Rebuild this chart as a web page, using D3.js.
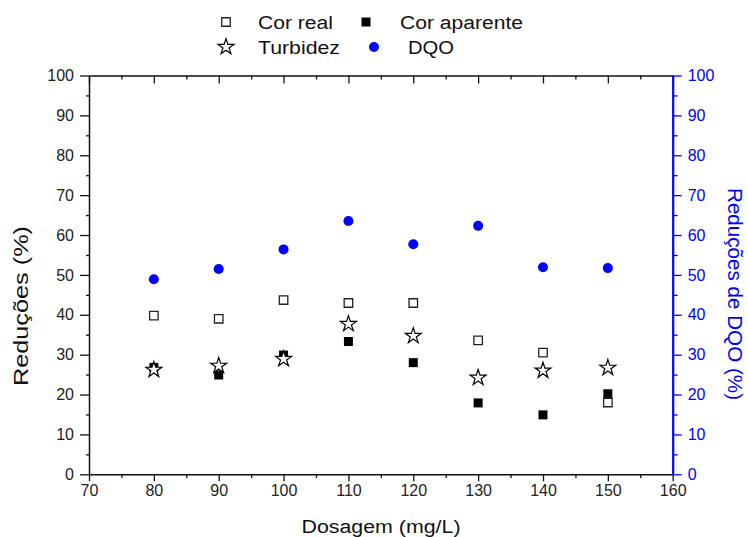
<!DOCTYPE html>
<html><head><meta charset="utf-8">
<script src="https://cdn.jsdelivr.net/npm/d3@7"></script>
<style>body{margin:0;background:#fff}svg{display:block}text{font-family:"Liberation Sans",Arial,sans-serif}</style>
</head><body><svg id="c" width="748" height="537"></svg>
<script>
const dosagem = [80, 90, 100, 110, 120, 130, 140, 150];
const corReal = [39.8, 39.0, 43.7, 42.95, 42.95, 33.6, 30.5, 18.0];
const corAparente = [26.8, 24.9, 29.9, 33.3, 28.0, 17.9, 14.9, 20.2];
const turbidez = [26.2, 27.2, 28.9, 37.7, 34.7, 24.2, 26.0, 26.7];
const dqo = [48.9, 51.5, 56.4, 63.5, 57.7, 62.3, 51.9, 51.7];
const xTicks = [70, 80, 90, 100, 110, 120, 130, 140, 150, 160];
const yTicks = [0, 10, 20, 30, 40, 50, 60, 70, 80, 90, 100];

const svg = d3.select("#c");
const L = 89, R = 672.7, T = 75.5, B = 474.3;
const x = d3.scaleLinear().domain([70, 160]).range([L, R]);
const y = d3.scaleLinear().domain([0, 100]).range([B, T]);
const y2 = d3.scaleLinear().domain([0, 100]).range([B, T]);
const minorX = d3.range(75, 160, 10);
const minorY = d3.range(5, 100, 10);
const blue = "#0000ff";

function style(g, color, w) {
  g.select(".domain").attr("stroke", color).attr("stroke-width", w);
  g.selectAll(".tick line").attr("stroke", color).attr("stroke-width", 1.3);
  g.selectAll(".tick text").attr("fill", color).style("font-size", "16px");
}
// bottom axis
let g = svg.append("g").attr("transform", `translate(0,${B})`)
  .call(d3.axisBottom(x).tickValues(xTicks).tickFormat(d3.format("d")).tickSizeInner(7).tickSizeOuter(0).tickPadding(3));
style(g, "#111", 1.5);
g.selectAll(".tick text").attr("fill", "#222");
svg.append("g").attr("transform", `translate(0,${B})`)
  .call(d3.axisBottom(x).tickValues(minorX).tickFormat("").tickSize(3.7))
  .call(s => { s.select(".domain").remove(); s.selectAll("line").attr("stroke", "#111").attr("stroke-width", 1.3); });
// top axis (inward ticks)
g = svg.append("g").attr("transform", `translate(0,${T})`)
  .call(d3.axisTop(x).tickValues(xTicks).tickFormat("").tickSizeInner(-8).tickSizeOuter(0));
style(g, "#111", 1.5);
svg.append("g").attr("transform", `translate(0,${T})`)
  .call(d3.axisTop(x).tickValues(minorX).tickFormat("").tickSize(-4))
  .call(s => { s.select(".domain").remove(); s.selectAll("line").attr("stroke", "#111").attr("stroke-width", 1.3); });
// left axis
g = svg.append("g").attr("transform", `translate(${L},0)`)
  .call(d3.axisLeft(y).tickValues(yTicks).tickFormat(d3.format("d")).tickSizeInner(9).tickSizeOuter(0).tickPadding(6));
style(g, "#111", 1.5);
g.selectAll(".tick text").attr("fill", "#222");
svg.append("g").attr("transform", `translate(${L},0)`)
  .call(d3.axisLeft(y).tickValues(minorY).tickFormat("").tickSize(3))
  .call(s => { s.select(".domain").remove(); s.selectAll("line").attr("stroke", "#111").attr("stroke-width", 1.3); });
// right axis blue
g = svg.append("g").attr("transform", `translate(${R},0)`)
  .call(d3.axisRight(y2).tickValues(yTicks).tickFormat(d3.format("d")).tickSizeInner(9).tickSizeOuter(0).tickPadding(6));
style(g, blue, 2.2);
svg.append("g").attr("transform", `translate(${R},0)`)
  .call(d3.axisRight(y2).tickValues(minorY).tickFormat("").tickSize(5))
  .call(s => { s.select(".domain").remove(); s.selectAll("line").attr("stroke", blue).attr("stroke-width", 1.3); });

// axis titles
svg.append("text").attr("x", 381).attr("y", 533).attr("text-anchor", "middle")
  .style("font-size", "18px").attr("fill", "#111").attr("textLength", 159).attr("lengthAdjust", "spacingAndGlyphs").text("Dosagem (mg/L)");
svg.append("text").attr("transform", "translate(28,306) rotate(-90)").attr("text-anchor", "middle")
  .style("font-size", "21px").attr("fill", "#111").attr("textLength", 160).attr("lengthAdjust", "spacingAndGlyphs").text("Reduções (%)");
svg.append("text").attr("transform", "translate(728,294) rotate(90)").attr("text-anchor", "middle")
  .style("font-size", "20px").attr("fill", blue).attr("textLength", 212).attr("lengthAdjust", "spacingAndGlyphs").text("Reduções de DQO (%)");

const sq = d3.symbol().type(d3.symbolSquare).size(81)();
const sqOpen = d3.symbol().type(d3.symbolSquare).size(72)();
const star = d3.symbol().type(d3.symbolStar).size(78)();

const plot = svg.append("g");
plot.selectAll(".fa").data(dosagem).join("path").attr("d", sq)
  .attr("transform", (d, i) => `translate(${x(d)},${y(corAparente[i])})`).attr("fill", "#000");
plot.selectAll(".cr").data(dosagem).join("path").attr("d", sqOpen)
  .attr("transform", (d, i) => `translate(${x(d)},${y(corReal[i])})`).attr("fill", "#fff").attr("stroke", "#222").attr("stroke-width", 1.3);
plot.selectAll(".tb").data(dosagem).join("path").attr("d", star)
  .attr("transform", (d, i) => `translate(${x(d)},${y(turbidez[i])})`).attr("fill", "#fff").attr("stroke", "#000").attr("stroke-width", 1.2);
plot.selectAll(".dq").data(dosagem).join("circle").attr("r", 5)
  .attr("cx", d => x(d)).attr("cy", (d, i) => y2(dqo[i])).attr("fill", blue);

// legend
const lg = svg.append("g");
lg.append("path").attr("d", sqOpen).attr("transform", "translate(226,22)").attr("fill", "#fff").attr("stroke", "#222").attr("stroke-width", 1.3);
lg.append("path").attr("d", sq).attr("transform", "translate(366,22)").attr("fill", "#000");
lg.append("path").attr("d", star).attr("transform", "translate(226,47)").attr("fill", "#fff").attr("stroke", "#000").attr("stroke-width", 1.2);
lg.append("circle").attr("cx", 374).attr("cy", 47).attr("r", 5).attr("fill", blue);
const lt = [["Cor real", 258, 29, 75], ["Cor aparente", 400, 29, 123], ["Turbidez", 258, 54, 82], ["DQO", 408, 54, 46]];
lt.forEach(([t, lx, ly, w]) => lg.append("text").attr("x", lx).attr("y", ly).style("font-size", "18px").attr("fill", "#111")
  .attr("textLength", w).attr("lengthAdjust", "spacingAndGlyphs").text(t));
</script></body></html>
